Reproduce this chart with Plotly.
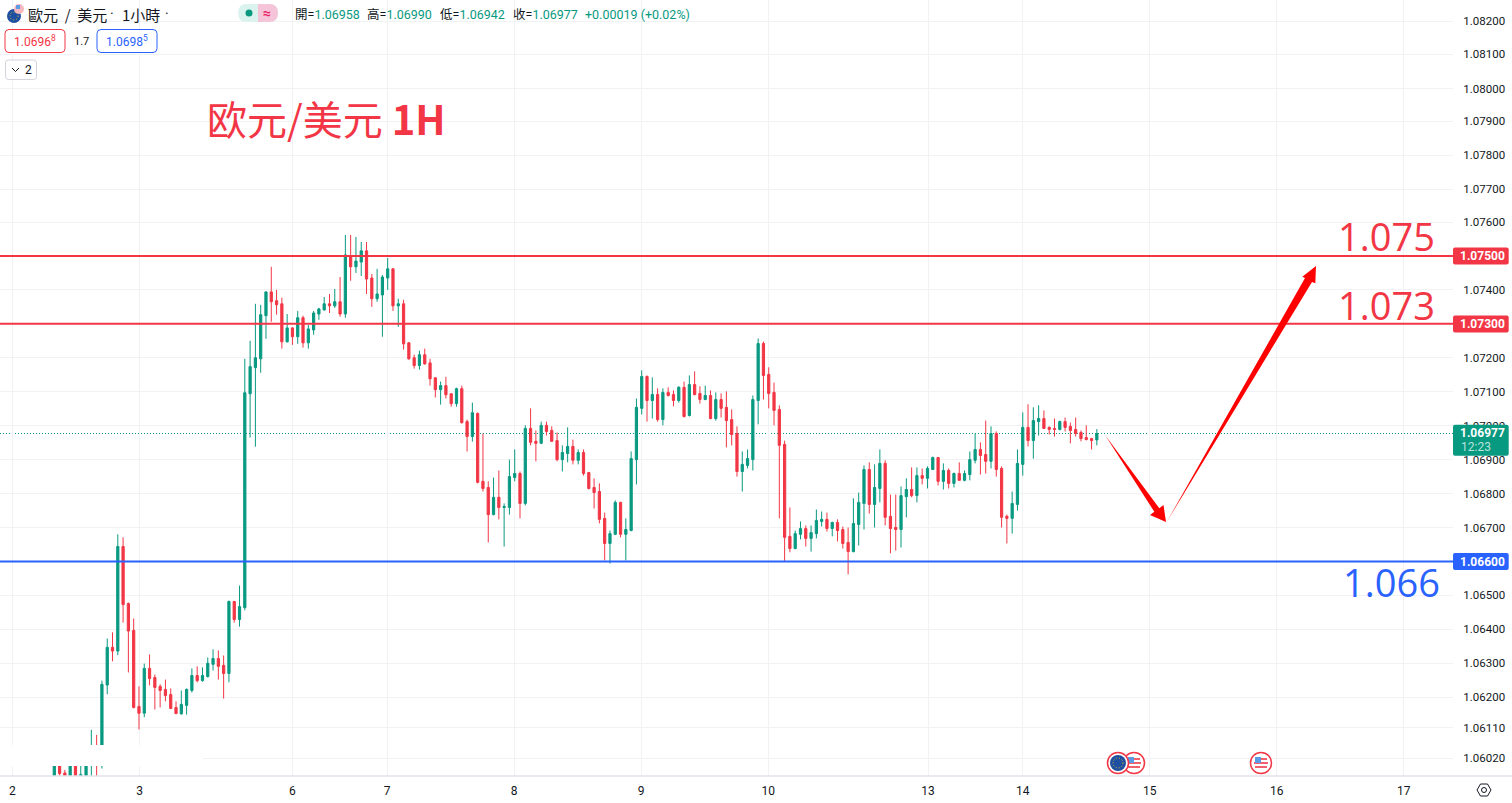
import plotly.graph_objects as go

# hourly bars
opens = [1.0595, 1.0601, 1.05977, 1.0594, 1.0601, 1.0595, 1.0595, 1.059, 1.0596, 1.0603,
    1.06236, 1.06347, 1.06336, 1.06644, 1.06476, 1.06397, 1.06173, 1.06153, 1.06285, 1.06258,
    1.06232, 1.06223, 1.06208, 1.0617, 1.06151, 1.06176, 1.0622, 1.06264, 1.06249, 1.06261,
    1.06297, 1.06314, 1.06294, 1.0627, 1.06482, 1.06429, 1.06464, 1.07094, 1.07171, 1.07197,
    1.07324, 1.07394, 1.07368, 1.07359, 1.07247, 1.07288, 1.07262, 1.07318, 1.07244, 1.07282,
    1.07329, 1.07341, 1.07359, 1.07353, 1.07365, 1.07329, 1.075, 1.07468, 1.07482, 1.07515,
    1.07435, 1.07374, 1.07385, 1.07435, 1.07462, 1.07353, 1.07359, 1.07244, 1.072, 1.07177,
    1.07209, 1.07185, 1.07141, 1.07106, 1.07118, 1.07094, 1.07065, 1.07109, 1.07012, 1.06968,
    1.07036, 1.06836, 1.06818, 1.06738, 1.06789, 1.06759, 1.06759, 1.06847, 1.06859, 1.06771,
    1.06992, 1.06954, 1.06948, 1.07001, 1.06986, 1.06956, 1.069, 1.06918, 1.06939, 1.06898,
    1.06921, 1.06862, 1.06818, 1.06806, 1.06727, 1.06653, 1.0668, 1.06774, 1.0668, 1.06691,
    1.069, 1.07051, 1.07145, 1.07074, 1.07092, 1.07018, 1.07098, 1.07092, 1.07074, 1.07113,
    1.0703, 1.07121, 1.07095, 1.07077, 1.07089, 1.07021, 1.07077, 1.07054, 1.07018, 1.06977,
    1.06865, 1.06883, 1.069, 1.07074, 1.07242, 1.07151, 1.07098, 1.07048, 1.06945, 1.06674,
    1.06638, 1.0668, 1.06697, 1.06668, 1.06682, 1.06718, 1.06724, 1.06697, 1.06715, 1.06694,
    1.06656, 1.06629, 1.06709, 1.06771, 1.06871, 1.06768, 1.06815, 1.06889, 1.06733, 1.067,
    1.06694, 1.06791, 1.06812, 1.06794, 1.06853, 1.06845, 1.06871, 1.06906, 1.06836, 1.06868,
    1.0683, 1.06859, 1.06839, 1.06856, 1.06898, 1.0693, 1.06915, 1.06895, 1.06977, 1.06874,
    1.06733, 1.06727, 1.06768, 1.06886, 1.06995, 1.06956, 1.07012, 1.07021, 1.06995, 1.06992,
    1.06989, 1.07012, 1.06998, 1.06989, 1.0698, 1.06965, 1.06962, 1.06958]
highs = [1.0602, 1.0603, 1.05986, 1.0602, 1.0602, 1.0603, 1.0602, 1.06104, 1.06089, 1.06249,
    1.06373, 1.06391, 1.0668, 1.06671, 1.06479, 1.06432, 1.06232, 1.06299, 1.06326, 1.06267,
    1.06238, 1.06252, 1.06226, 1.06188, 1.0622, 1.06226, 1.06285, 1.06291, 1.06288, 1.06317,
    1.06341, 1.06338, 1.06323, 1.06485, 1.06484, 1.06529, 1.07197, 1.0725, 1.07359, 1.07356,
    1.07396, 1.07468, 1.074, 1.07377, 1.07329, 1.0729, 1.07338, 1.07324, 1.07297, 1.07338,
    1.07347, 1.07379, 1.07388, 1.07403, 1.07438, 1.07562, 1.07562, 1.07556, 1.07541, 1.07541,
    1.07447, 1.07462, 1.07444, 1.07494, 1.07464, 1.07374, 1.07371, 1.07246, 1.07209, 1.07221,
    1.07227, 1.07197, 1.07143, 1.0713, 1.07144, 1.07096, 1.07112, 1.07118, 1.07018, 1.07068,
    1.07039, 1.06977, 1.06836, 1.06847, 1.06868, 1.06771, 1.069, 1.0693, 1.06865, 1.07001,
    1.07051, 1.06986, 1.07012, 1.07012, 1.06998, 1.0698, 1.06942, 1.06995, 1.06959, 1.0693,
    1.0693, 1.06864, 1.06845, 1.0683, 1.06744, 1.06691, 1.0678, 1.06776, 1.06727, 1.06924,
    1.0708, 1.07163, 1.07148, 1.07142, 1.0711, 1.0711, 1.07113, 1.07104, 1.07116, 1.0713,
    1.07148, 1.0716, 1.07116, 1.07118, 1.07104, 1.07098, 1.07095, 1.07101, 1.07048, 1.06998,
    1.06924, 1.0693, 1.07089, 1.07257, 1.07248, 1.07172, 1.07127, 1.0706, 1.06956, 1.06759,
    1.06691, 1.06718, 1.06706, 1.06706, 1.06753, 1.06747, 1.06744, 1.06717, 1.06724, 1.06703,
    1.067, 1.06786, 1.06803, 1.06883, 1.06892, 1.06886, 1.0693, 1.06898, 1.06797, 1.06797,
    1.06821, 1.06845, 1.06877, 1.06877, 1.06874, 1.0688, 1.06909, 1.06908, 1.06889, 1.06874,
    1.06862, 1.06892, 1.06868, 1.06924, 1.06977, 1.06951, 1.07015, 1.06998, 1.06983, 1.0688,
    1.06738, 1.06806, 1.0693, 1.07039, 1.07063, 1.07054, 1.0706, 1.07045, 1.06998, 1.07021,
    1.07015, 1.07024, 1.07009, 1.07024, 1.06986, 1.07001, 1.06964, 1.0699]
lows = [1.0594, 1.0596, 1.0594, 1.0593, 1.0593, 1.0594, 1.0594, 1.0589, 1.0589, 1.0599,
    1.06209, 1.06306, 1.06324, 1.0642, 1.06273, 1.06167, 1.06105, 1.06141, 1.06235, 1.06164,
    1.0617, 1.06188, 1.06165, 1.0615, 1.06149, 1.06149, 1.06214, 1.06244, 1.06246, 1.06258,
    1.06279, 1.06252, 1.06196, 1.06244, 1.0642, 1.06408, 1.06456, 1.06965, 1.06938, 1.07156,
    1.07256, 1.07306, 1.07327, 1.07227, 1.07245, 1.07238, 1.07241, 1.0723, 1.07227, 1.07268,
    1.07312, 1.07339, 1.07332, 1.07347, 1.07321, 1.07318, 1.07427, 1.0745, 1.07441, 1.07388,
    1.0735, 1.07365, 1.07262, 1.074, 1.07338, 1.07291, 1.07224, 1.07194, 1.07168, 1.07165,
    1.0718, 1.07118, 1.07083, 1.07062, 1.0708, 1.07056, 1.07056, 1.07006, 1.06924, 1.06953,
    1.0683, 1.06806, 1.06656, 1.06736, 1.06724, 1.06644, 1.06738, 1.06836, 1.06727, 1.06765,
    1.06942, 1.06895, 1.06946, 1.06971, 1.06952, 1.06895, 1.06865, 1.06892, 1.06886, 1.06886,
    1.06853, 1.06812, 1.06756, 1.06712, 1.06603, 1.06594, 1.06678, 1.06671, 1.06603, 1.06689,
    1.06827, 1.07033, 1.07012, 1.07021, 1.07012, 1.07001, 1.07086, 1.07057, 1.07068, 1.07024,
    1.07027, 1.07089, 1.07065, 1.07075, 1.07019, 1.07015, 1.07024, 1.06936, 1.06942, 1.0685,
    1.06806, 1.06874, 1.06868, 1.07004, 1.07077, 1.07051, 1.07001, 1.06727, 1.066, 1.06627,
    1.06636, 1.06665, 1.06644, 1.06629, 1.06668, 1.06703, 1.06688, 1.06674, 1.06659, 1.06638,
    1.06562, 1.06627, 1.06647, 1.06694, 1.06741, 1.067, 1.06774, 1.06706, 1.06624, 1.06632,
    1.06641, 1.0673, 1.06789, 1.06774, 1.06827, 1.06815, 1.06869, 1.06824, 1.06812, 1.06815,
    1.06818, 1.06837, 1.06836, 1.06839, 1.06889, 1.06856, 1.06859, 1.06874, 1.0685, 1.067,
    1.06653, 1.06682, 1.0675, 1.06853, 1.06939, 1.06903, 1.06971, 1.0699, 1.06974, 1.06968,
    1.06986, 1.06983, 1.06948, 1.06968, 1.06954, 1.06957, 1.0693, 1.06942]
closes = [1.0601, 1.05975, 1.0595, 1.0601, 1.0594, 1.05972, 1.0601, 1.0595, 1.059, 1.06238,
    1.06347, 1.06336, 1.06644, 1.06473, 1.06395, 1.0617, 1.06153, 1.06285, 1.06255, 1.06229,
    1.0622, 1.06205, 1.06167, 1.06152, 1.06179, 1.06223, 1.06264, 1.06249, 1.06264, 1.063,
    1.06314, 1.06291, 1.0627, 1.06482, 1.06429, 1.06467, 1.07097, 1.07174, 1.072, 1.07327,
    1.07394, 1.07365, 1.07356, 1.07247, 1.07288, 1.07262, 1.07318, 1.07244, 1.07285, 1.07332,
    1.07344, 1.07359, 1.07353, 1.07365, 1.07329, 1.07503, 1.07468, 1.07485, 1.07515, 1.07432,
    1.07374, 1.07388, 1.07438, 1.07462, 1.07353, 1.07359, 1.07241, 1.07197, 1.07177, 1.07209,
    1.07182, 1.07138, 1.07106, 1.07118, 1.07091, 1.07065, 1.07109, 1.07009, 1.06968, 1.07038,
    1.06833, 1.06815, 1.06738, 1.06789, 1.06759, 1.06762, 1.0685, 1.06859, 1.06771, 1.06992,
    1.06951, 1.06948, 1.07001, 1.06983, 1.06954, 1.069, 1.06921, 1.06939, 1.06898, 1.06921,
    1.06859, 1.06815, 1.06803, 1.06724, 1.06653, 1.06682, 1.06774, 1.0668, 1.06694, 1.06903,
    1.07054, 1.07145, 1.07074, 1.07092, 1.07018, 1.07098, 1.07089, 1.07074, 1.07113, 1.07027,
    1.07121, 1.07092, 1.07077, 1.07089, 1.07021, 1.07077, 1.07051, 1.07015, 1.06974, 1.06865,
    1.06886, 1.06903, 1.07077, 1.07242, 1.07148, 1.07095, 1.07045, 1.06942, 1.06671, 1.06638,
    1.06682, 1.06697, 1.06668, 1.06685, 1.06721, 1.06724, 1.06697, 1.06715, 1.06691, 1.06653,
    1.06629, 1.06712, 1.06774, 1.06871, 1.06768, 1.06818, 1.06889, 1.0673, 1.06697, 1.06694,
    1.06794, 1.06812, 1.06794, 1.06853, 1.06845, 1.06874, 1.06906, 1.06836, 1.06868, 1.0683,
    1.06859, 1.06839, 1.06859, 1.069, 1.0693, 1.06912, 1.06895, 1.06977, 1.06871, 1.0673,
    1.06727, 1.06771, 1.06889, 1.06995, 1.06956, 1.07015, 1.07021, 1.06992, 1.06989, 1.06989,
    1.07012, 1.06995, 1.06986, 1.06977, 1.06962, 1.06959, 1.06956, 1.06977]

day_labels = ["2", "3", "6", "7", "8", "9", "10", "13", "14", "15", "16", "17"]
day_bars = [-7.9, 16.1, 45, 62.9, 86.9, 110.9, 134.9, 165.1, 183, 207, 231, 255]
price_labels = ["1.08200", "1.08100", "1.08000", "1.07900", "1.07800", "1.07700", "1.07600", "",
    "1.07400", "", "1.07200", "1.07100", "1.07000", "1.06900", "1.06800", "1.06700", "",
    "1.06500", "1.06400", "1.06300", "1.06200", "1.06110", "1.06020"]
# the source scale is not quite even at the top, so these sit where its grid lines sit
price_ticks = [1.08191, 1.08094, 1.07993, 1.07897, 1.07797, 1.07697, 1.076, 1.075, 1.074, 1.073, 1.072,
    1.071, 1.07, 1.069, 1.068, 1.067, 1.066, 1.065, 1.064, 1.063, 1.062, 1.0611, 1.0602]

levels = [1.075, 1.073, 1.066]
level_colors = ["#f23645", "#f23645", "#2962ff"]
level_names = ["1.075", "1.073", "1.066"]
last_price = 1.06977
ohlc_names = ["開=", "高=", "低=", "收="]
ohlc_values = ["1.06958", "1.06990", "1.06942", "1.06977"]

RED = "#f23645"
GREEN = "#089981"
BLUE = "#2962ff"
TEXT = "#131722"
GRID = "#f1f2f4"
FONT = "Roboto, 'Noto Sans CJK TC', sans-serif"
CJK = "'Noto Sans CJK TC', sans-serif"

# plot area in screen pixels
PW, PH = 1453, 776


def X(px):
    return px / PW


def Y(py):
    return 1 - py / PH


def pane(x0, y0, x1, y1, fill="rgba(0,0,0,0)", line=None, w=1, layer="above"):
    return dict(type="rect", xref="paper", yref="paper", x0=X(x0), y0=Y(y0), x1=X(x1), y1=Y(y1),
                fillcolor=fill, line=dict(color=line or fill, width=w if line else 0), layer=layer)


def round_box(x0, y0, x1, y1, r, fill="rgba(0,0,0,0)", line=None):
    p = (f"M{X(x0+r)} {Y(y0)} L{X(x1-r)} {Y(y0)} Q{X(x1)} {Y(y0)} {X(x1)} {Y(y0+r)} "
         f"L{X(x1)} {Y(y1-r)} Q{X(x1)} {Y(y1)} {X(x1-r)} {Y(y1)} L{X(x0+r)} {Y(y1)} "
         f"Q{X(x0)} {Y(y1)} {X(x0)} {Y(y1-r)} L{X(x0)} {Y(y0+r)} Q{X(x0)} {Y(y0)} {X(x0+r)} {Y(y0)} Z")
    return dict(type="path", xref="paper", yref="paper", path=p, fillcolor=fill,
                line=dict(color=line or fill, width=1 if line else 0), layer="above")


def poly(points, fill=None, line=None, w=1):
    p = "M" + " L".join(f"{X(a)} {Y(b)}" for a, b in points)
    if fill:
        p += " Z"
    return dict(type="path", xref="paper", yref="paper", path=p, fillcolor=fill or "rgba(0,0,0,0)",
                line=dict(color=line or "rgba(0,0,0,0)", width=w if line else 0), layer="above")


def disc(cx, cy, r, fill="rgba(0,0,0,0)", line=None, w=1, dash=None):
    return dict(type="circle", xref="paper", yref="paper", x0=X(cx-r), y0=Y(cy-r), x1=X(cx+r), y1=Y(cy+r),
                fillcolor=fill, line=dict(color=line or fill, width=w if line else 0, dash=dash), layer="above")


def label(px, py, text, size=12, color=TEXT, family=FONT, anchor="center"):
    return dict(xref="paper", yref="paper", x=X(px), y=Y(py), text=text, showarrow=False, xanchor=anchor,
                yanchor="middle", align=anchor, borderpad=0, borderwidth=0,
                font=dict(size=size, color=color, family=family))


def us_flag(cx, cy):
    return [disc(cx, cy, 10.5, "white", RED, 1.5),
            pane(cx-6, cy+3, cx+6, cy+5, "#f0616d"),
            pane(cx-7, cy-1, cx+7, cy+1, "#f0616d"),
            pane(cx-1, cy-5, cx+6, cy-3, "#f0616d"),
            pane(cx-6, cy-6, cx, cy, "#5b9be6")]


def eu_flag(cx, cy):
    return [disc(cx, cy, 10.5, "white", RED, 1.5),
            disc(cx, cy, 8, "#1f4fa0"),
            disc(cx, cy, 5, line="#e8c52c", w=1, dash="1px,2px")]


fig = go.Figure()
fig.add_trace(go.Candlestick(x=list(range(len(opens))), open=opens, high=highs, low=lows, close=closes,
                             increasing=dict(line=dict(color=GREEN, width=1), fillcolor=GREEN),
                             decreasing=dict(line=dict(color=RED, width=1), fillcolor=RED),
                             whiskerwidth=0, showlegend=False, hoverinfo="skip"))

shapes = []
shapes.append(dict(type="line", xref="paper", x0=0, x1=1, y0=last_price, y1=last_price,
                   line=dict(color=GREEN, width=1, dash="1px,2px"), layer="below"))
for lv, col in zip(levels, level_colors):
    shapes.append(dict(type="line", xref="paper", x0=0, x1=1, y0=lv, y1=lv,
                       line=dict(color=col, width=2), layer="above"))

# white strip that hides the bars near the bottom left
shapes.append(pane(0, 745, 203, 766, "white"))
# bottom border
shapes.append(dict(type="line", xref="paper", yref="paper", x0=0, x1=X(1512), y0=Y(776), y1=Y(776),
                   line=dict(color="#e0e3eb", width=1.5), layer="above"))

# drawn arrows
shapes.append(poly([(1105, 435), (1159.3, 508.3), (1163.5, 505), (1166, 522), (1150, 515), (1154.3, 511.7)], "#ff0000"))
shapes.append(poly([(1167, 521.5), (1305, 278), (1302.3, 276.7), (1316, 266), (1315.3, 283.3), (1312, 282)], "#ff0000"))

# price tags
tag_y = [256, 324, 561.5]
for py, col in zip(tag_y, level_colors):
    shapes.append(round_box(1453, py - 8.5, 1508.7, py + 8.5, 2, col))
shapes.append(round_box(1453, 424.7, 1508.7, 455.7, 2, GREEN))

# header widgets
shapes.append(disc(14, 16, 7, "#1f4fa0"))
shapes.append(disc(14, 16, 4, line="#e8c52c", w=1, dash="1px,2px"))
shapes.append(disc(19, 9, 5, "#f6b9c0"))
shapes.append(pane(16, 5, 20, 9, "#5b9be6"))
shapes.append(round_box(238, 4, 278, 22, 9, "#daf3ee"))
shapes.append(round_box(258, 4, 278, 22, 9, "#f6c4d8"))
shapes.append(pane(258, 4, 264, 22, "#f6c4d8"))
shapes.append(disc(249, 13, 3.5, GREEN))
shapes.append(round_box(5, 29.5, 65, 52.5, 4, "white", RED))
shapes.append(round_box(97, 29.5, 157, 52.5, 4, "white", BLUE))
shapes.append(round_box(5.5, 60, 36.5, 79.5, 3, "white", "#d1d4dc"))
shapes.append(poly([(12, 68), (15.5, 71.5), (19, 68)], line=TEXT, w=1))

# event markers
shapes += us_flag(1134, 763)
shapes += eu_flag(1118, 763)
shapes += us_flag(1261, 763)

# settings button
shapes.append(poly([(1477, 790), (1480.5, 784), (1487.5, 784), (1491, 790), (1487.5, 796), (1480.5, 796)], None, TEXT, 1))
shapes[-1]["path"] += " Z"
shapes.append(disc(1484, 790, 2.5, line=TEXT, w=1))

green_span = '<span style="color:%s">%%s</span>' % GREEN

annotations = [
    label(28, 14, "歐元\u00a0\u00a0/\u00a0\u00a0美元", 15, TEXT, CJK, "left"),
    label(112, 14, "·", 14, TEXT, FONT),
    label(122, 14, "1小時", 15, TEXT, CJK, "left"),
    label(167, 14, "·", 14, TEXT, FONT),
    label(267, 13, "<b>≈</b>", 14, "#e91e63", FONT),
    label(585, 14, "+0.00019 (+0.02%)", 12.5, GREEN, FONT, "left"),
    label(35, 41, "1.0696<sup>8</sup>", 12, RED),
    label(81, 41, "1.7", 11, TEXT),
    label(127, 41, "1.0698<sup>5</sup>", 12, BLUE),
    label(28, 70, "2", 12, TEXT),
    label(207, 118, "欧元/美元 <b>1H</b>", 40, RED, "'Noto Sans CJK SC', sans-serif", "left"),
    label(1482, 433, "<b>1.06977</b>", 12, "white"),
    label(1475.5, 447.5, "12:23", 12, "#b7e3da"),
]
for nm, val, px in zip(ohlc_names, ohlc_values, [295, 367, 440, 513]):
    annotations.append(label(px, 14, nm + green_span % val, 12.5, TEXT, FONT, "left"))
for name, col, py, px in zip(level_names, level_colors, [236, 305, 582], [1386, 1386, 1391]):
    annotations.append(label(px, py, name, 38, col, "'Open Sans', sans-serif"))
for lv, py in zip(levels, tag_y):
    annotations.append(label(1482, py, "<b>%.5f</b>" % lv, 12, "white"))

fig.update_layout(
    width=1512, height=803, autosize=False,
    margin=dict(l=0, r=1512 - PW, t=0, b=803 - PH, pad=0),
    paper_bgcolor="white", plot_bgcolor="white",
    boxgap=0.4, hovermode=False, showlegend=False,
    font=dict(family=FONT, size=12, color=TEXT),
    shapes=shapes, annotations=annotations,
    xaxis=dict(range=[-10.26, 264.3], tickmode="array", tickvals=day_bars, ticktext=day_labels,
               showgrid=True, gridcolor=GRID, gridwidth=1, zeroline=False, showline=False,
               rangeslider=dict(visible=False), ticks="outside", ticklen=4, tickcolor="white",
               tickfont=dict(size=12, color=TEXT)),
    yaxis=dict(range=[1.05968, 1.08254], side="right", tickmode="array", tickvals=price_ticks,
               ticktext=price_labels, showgrid=True, gridcolor=GRID, gridwidth=1,
               zeroline=False, showline=False, ticks="outside", ticklen=7, tickcolor="white",
               tickfont=dict(size=11.5, color=TEXT)),
)

fig.write_html("out.html", config={"displayModeBar": False},
               post_script="document.body.style.margin='0';document.body.style.overflow='hidden';")
